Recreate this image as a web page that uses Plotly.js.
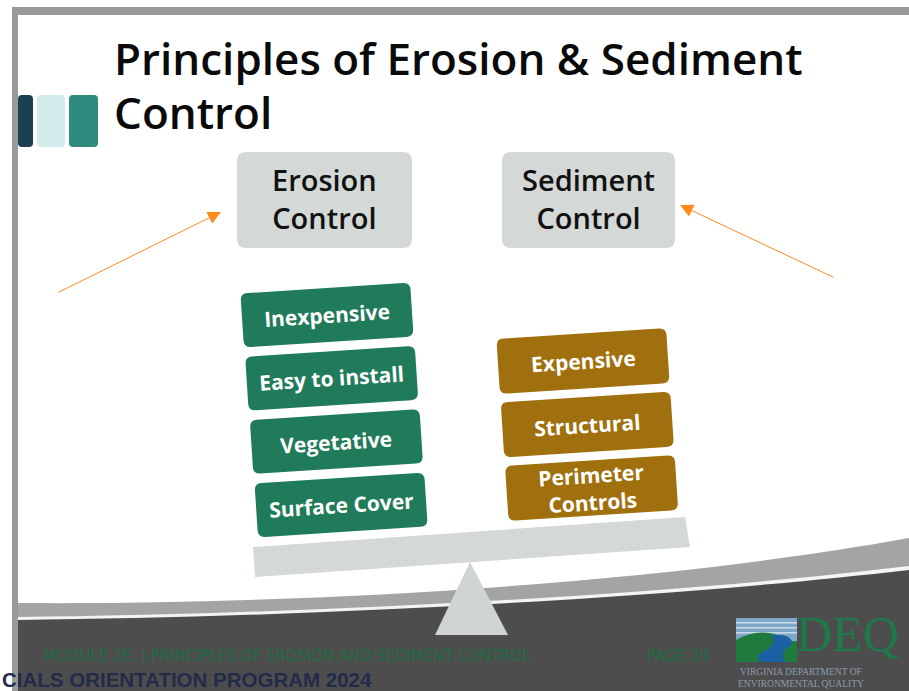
<!DOCTYPE html>
<html>
<head>
<meta charset="utf-8">
<script src="https://cdn.plot.ly/plotly-3.0.1.min.js"></script>
<style>html,body{margin:0;padding:0;background:#fff;}#chart{width:909px;height:691px;}</style>
</head>
<body>
<div id="chart"></div>
<script>
// ---- content ----
const titleLines = ["Principles of Erosion & Sediment", "Control"];
const headerLabels = ["Erosion<br>Control", "Sediment<br>Control"];
const erosionItems = ["Inexpensive", "Easy to install", "Vegetative", "Surface Cover"];
const sedimentItems = ["Expensive", "Structural", "Perimeter<br>Controls"];
const footerModule = "MODULE 2E. | PRINCIPLES OF EROSION AND SEDIMENT CONTROL";
const footerPage = "PAGE 29";
const logoName = "DEQ";
const logoSub = ["VIRGINIA DEPARTMENT OF", "ENVIRONMENTAL QUALITY"];
const overlayText = "CIALS ORIENTATION PROGRAM 2024";

// ---- colours ----
const C = {
  frame: "#9a9a9a", band: "#a4a4a4", dark: "#4d4d4d", box: "#d4d9d7",
  green: "#1f7b59", brown: "#a0700e", orange: "#ff8a1c",
  sq: ["#1c3f52", "#d2eceb", "#2f8b7d"], footGreen: "#1f6e44", navy: "#222c4a"
};
const NARROW = "'DejaVu Sans Condensed', 'Liberation Sans Narrow', 'Arial Narrow', 'Liberation Sans', sans-serif";

function rr(x0, y0, x1, y1, r) {
  return [
    ["M", [x0 + r, y0]], ["L", [x1 - r, y0]], ["Q", [x1, y0], [x1, y0 + r]],
    ["L", [x1, y1 - r]], ["Q", [x1, y1], [x1 - r, y1]], ["L", [x0 + r, y1]],
    ["Q", [x0, y1], [x0, y1 - r]], ["L", [x0, y0 + r]], ["Q", [x0, y0], [x0 + r, y0]]
  ];
}
function toPath(segs, tf) {
  return segs.map(s => s[0] + s.slice(1).map(p => { const q = tf ? tf(p) : p; return q[0].toFixed(2) + "," + q[1].toFixed(2); }).join(" ")).join(" ") + " Z";
}
function rotBox(cx, cy, w, h, r, deg) {
  const a = deg * Math.PI / 180, c = Math.cos(a), s = Math.sin(a);
  const tf = p => { const dx = p[0], dy = p[1]; return [cx + dx * c + dy * s, cy - dx * s + dy * c]; };
  return toPath(rr(-w / 2, -h / 2, w / 2, h / 2, r), tf);
}

const shapes = [];
const annotations = [];
const S = (o) => shapes.push(Object.assign({xref: "x", yref: "y", layer: "above", line: {width: 0}}, o));

// frame
S({type: "rect", x0: 12, x1: 909, y0: 7, y1: 15, fillcolor: C.frame});
S({type: "rect", x0: 12, x1: 18, y0: 7, y1: 691, fillcolor: C.frame});
// bottom bands
S({type: "path", path: "M18,603 C300,605 650,585 909,538 L909,691 L18,691 Z", fillcolor: C.band});
S({type: "path", path: "M18,617 C300,614 650,597 909,566 L909,691 L18,691 Z", fillcolor: "#f4f4f4"});
S({type: "path", path: "M18,620 C300,617 650,600 909,570 L909,691 L18,691 Z", fillcolor: C.dark});

// squares
[[18, 33], [37, 65], [69, 98]].forEach((xx, i) => S({type: "path", path: toPath(rr(xx[0], 95, xx[1], 147, 4)), fillcolor: C.sq[i]}));

// title
titleLines.forEach((t, i) => annotations.push({x: 112, y: 58 + i * 54, xref: "x", yref: "y", xanchor: "left", yanchor: "middle", showarrow: false, text: t,
  font: {family: "Open Sans", size: 44, color: "#0a0a0a", weight: 600}}));

// headers
const hdr = [[237, 412], [502, 675]];
headerLabels.forEach((t, i) => {
  S({type: "path", path: toPath(rr(hdr[i][0], 152, hdr[i][1], 248, 9)), fillcolor: C.box});
  annotations.push({x: (hdr[i][0] + hdr[i][1]) / 2, y: 198, xref: "x", yref: "y", showarrow: false, text: t,
    font: {family: "Open Sans", size: 29, color: "#111", weight: 600}});
});

// arrows
annotations.push({x: 221, y: 212, ax: 57, ay: 293, xref: "x", yref: "y", axref: "x", ayref: "y", text: "", showarrow: true,
  arrowhead: 2, arrowsize: 2.6, arrowwidth: 1, arrowcolor: C.orange, standoff: 0});
annotations.push({x: 680, y: 205, ax: 835, ay: 278, xref: "x", yref: "y", axref: "x", ayref: "y", text: "", showarrow: true,
  arrowhead: 2, arrowsize: 2.6, arrowwidth: 1, arrowcolor: C.orange, standoff: 0});

// fulcrum and beam
S({type: "path", path: "M470,562 L508,635 L435,635 Z", fillcolor: "#cfd5d3"});
S({type: "path", path: "M253,547 L685,517 L690,547 L255,577 Z", fillcolor: C.box});

const ANG = 3.7;
erosionItems.forEach((t, i) => {
  const cx = 327 + 4.7 * i, cy = 315 + 63.3 * i;
  S({type: "path", path: rotBox(cx, cy, 170, 54, 7, ANG), fillcolor: C.green});
  annotations.push({x: cx, y: cy, xref: "x", yref: "y", showarrow: false, text: t, textangle: -ANG,
    font: {family: "Open Sans", size: 21, color: "#ffffff", weight: 700}});
});
sedimentItems.forEach((t, i) => {
  const cx = 583 + 4.3 * i, cy = 361 + 63.5 * i;
  S({type: "path", path: rotBox(cx, cy, 170, 55, 7, ANG), fillcolor: C.brown});
  annotations.push({x: cx, y: cy, xref: "x", yref: "y", showarrow: false, text: t, textangle: -ANG,
    font: {family: "Open Sans", size: 21, color: "#ffffff", weight: 700}});
});

// footer
annotations.push({x: 42, y: 655, xref: "x", yref: "y", xanchor: "left", showarrow: false, text: footerModule,
  font: {family: NARROW, size: 16.5, color: C.footGreen}});
annotations.push({x: 645, y: 655, xref: "x", yref: "y", xanchor: "left", showarrow: false, text: footerPage,
  font: {family: NARROW, size: 16.5, color: C.footGreen}});

// logo
S({type: "rect", x0: 736, x1: 797, y0: 618, y1: 662, fillcolor: "#7ea7c6"});
[622, 627, 632].forEach(y => S({type: "rect", x0: 736, x1: 797, y0: y, y1: y + 1.6, fillcolor: "#c9dbe8"}));
S({type: "path", path: "M736,662 L736,640 C750,632 765,630 780,636 C788,640 793,642 797,641 L797,662 Z", fillcolor: "#1f7a3e"});
S({type: "path", path: "M770,635 C778,640 772,648 762,652 C756,655 758,660 760,662 L786,662 C780,656 784,650 790,646 C795,642 790,636 782,635 Z", fillcolor: "#1c5fa3"});
annotations.push({x: 847, y: 634, xref: "x", yref: "y", showarrow: false, text: logoName,
  font: {family: "Liberation Serif", size: 50, color: "#1d7a4a"}});
annotations.push({x: 736, y: 678, xref: "x", yref: "y", xanchor: "left", showarrow: false, text: logoSub.join("<br>"),
  font: {family: "Liberation Serif", size: 9.5, color: "#8c9cab"}});

// overlay caption
annotations.push({x: 0, y: 679, xref: "x", yref: "y", xanchor: "left", showarrow: false, text: overlayText,
  font: {family: "Liberation Sans", size: 20.5, color: C.navy, weight: 700}});

const layout = {
  width: 909, height: 691, margin: {l: 0, r: 0, t: 0, b: 0},
  paper_bgcolor: "#ffffff", plot_bgcolor: "#ffffff", showlegend: false,
  xaxis: {range: [0, 909], visible: false, fixedrange: true},
  yaxis: {range: [691, 0], visible: false, fixedrange: true},
  shapes: shapes, annotations: annotations
};
Plotly.newPlot("chart", [], layout, {staticPlot: true, displayModeBar: false});
</script>
</body>
</html>
